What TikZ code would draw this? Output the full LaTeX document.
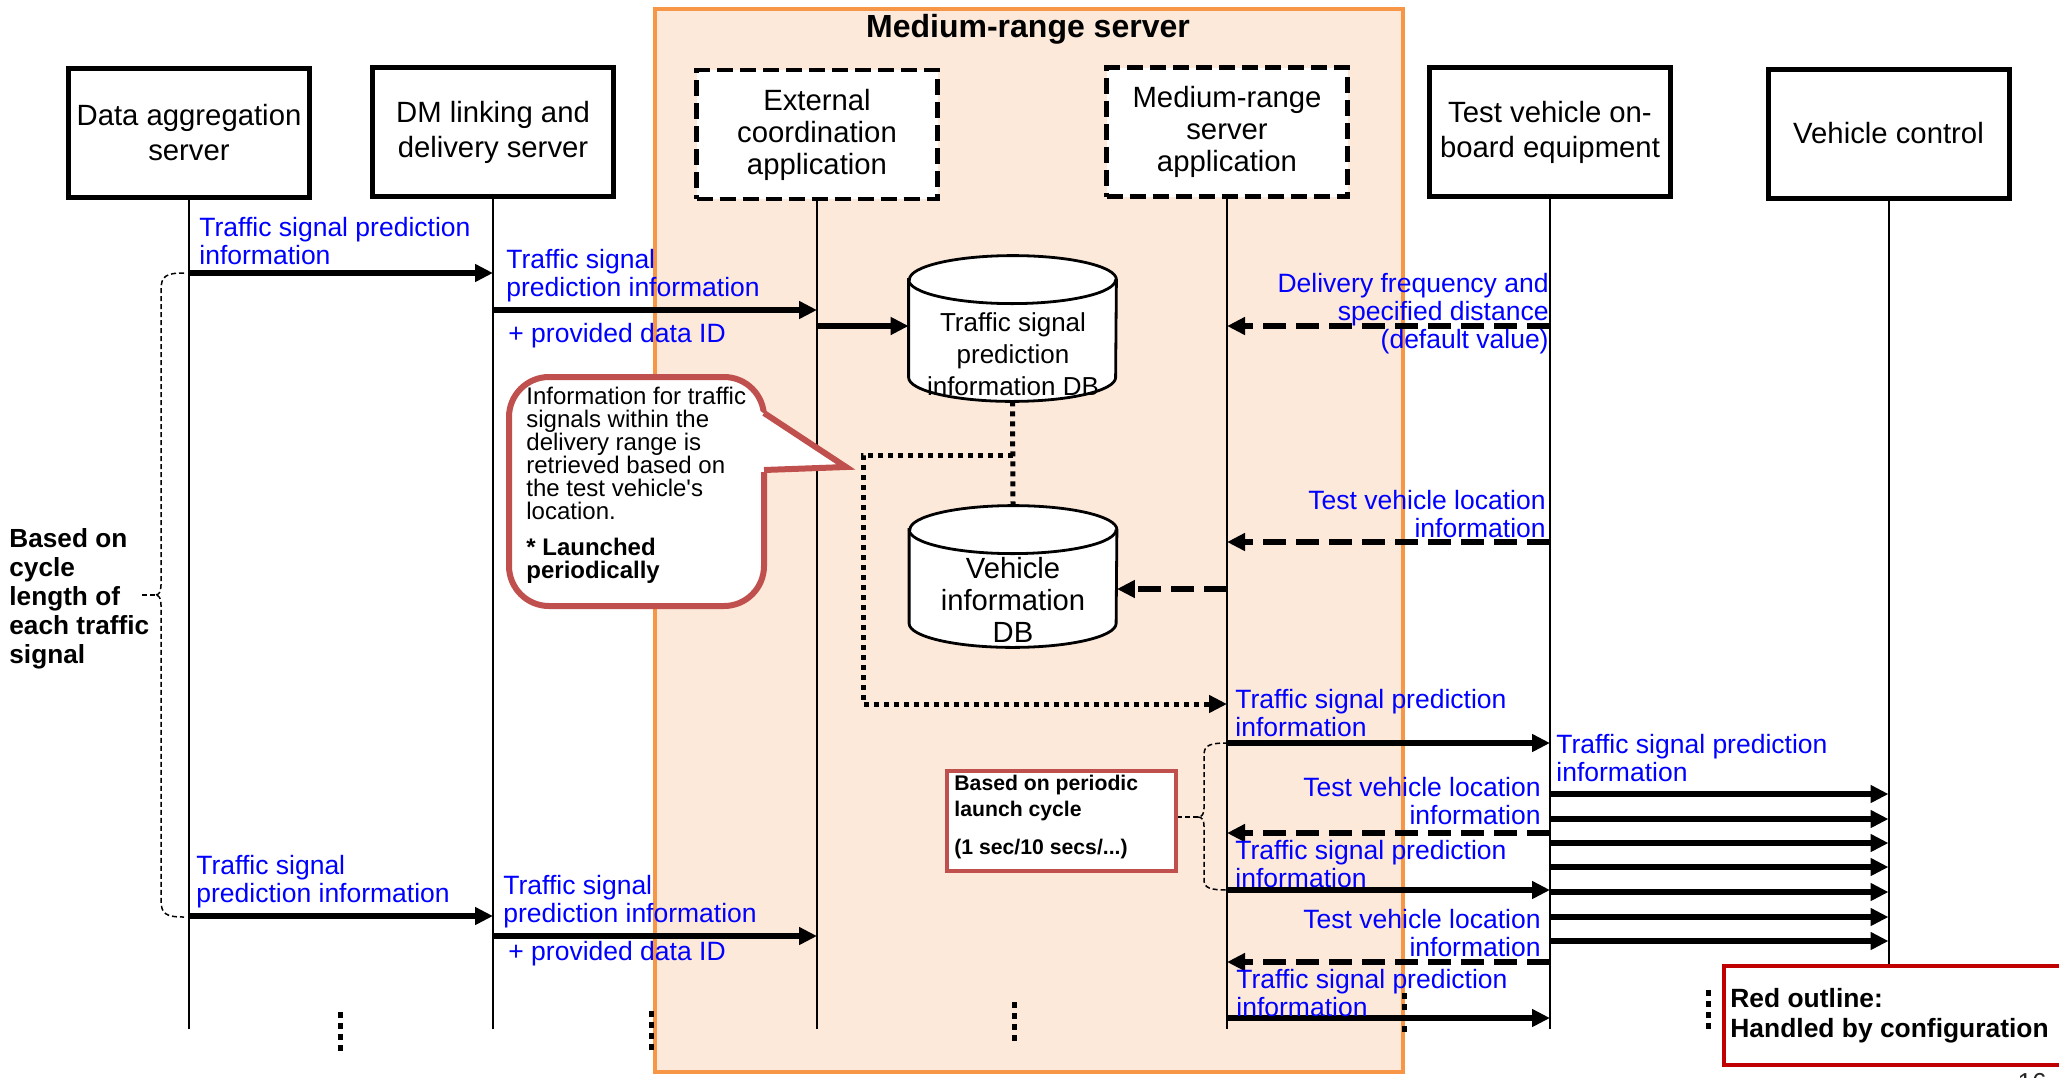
\documentclass[tikz,border=0pt]{standalone}
\usepackage{fontspec}
\setmainfont{Liberation Sans}
\usetikzlibrary{arrows.meta}
\definecolor{peach}{HTML}{FDE9D9}
\definecolor{orangeb}{HTML}{F79646}
\definecolor{calloutred}{HTML}{C0504D}
\definecolor{cfgred}{HTML}{C00000}
\definecolor{lblue}{HTML}{0000FF}
\begin{document}
\begin{tikzpicture}[x=0.5pt,y=0.5pt,
  lifebox/.style={draw, line width=2.5pt, fill=white, minimum width=120.5pt, minimum height=64.5pt, inner sep=0pt, align=center, font=\fontsize{14.65pt}{17.5pt}\selectfont},
  appbox/.style={lifebox, line width=2.2pt, dash pattern=on 8pt off 3.5pt, font=\fontsize{14.65pt}{16pt}\selectfont},
  lifeline/.style={line width=1pt},
  msg/.style={line width=3pt, -{Triangle[length=9pt,width=8.5pt]}},
  dmsg/.style={msg, dash pattern=on 11.5pt off 5pt},
  tmsg/.style={line width=2.5pt, dash pattern=on 2.5pt off 2.5pt, -{Triangle[length=9pt,width=8.5pt]}},
  tline/.style={line width=2.5pt, dash pattern=on 2.5pt off 2.5pt},
  lbl/.style={text=lblue, inner sep=0pt, font=\fontsize{13.25pt}{14pt}\selectfont},
  lbll/.style={lbl, anchor=west, align=left},
  lblr/.style={lbl, anchor=east, align=right},
  brace/.style={line width=0.75pt, dash pattern=on 2.5pt off 1.5pt},
  vdots/.style={line width=2.5pt, dash pattern=on 2.75pt off 2.75pt},
  dbline/.style={line width=1.4pt},
  dbshape/.style={inner sep=0pt, minimum width=103.5pt},
  plain/.style={inner sep=0pt, anchor=west, align=left},
]
\useasboundingbox (0,0) rectangle (2059,-1077);

% medium-range server group
\node[draw=orangeb, fill=peach, line width=2pt, minimum width=374pt, minimum height=531.5pt, inner sep=0pt] (group) at (1029,-540.5) {};
\node[font=\bfseries\fontsize{16pt}{16pt}\selectfont, inner sep=0pt] (title) at (1028,-29) {Medium-range server};

% lifeline heads
\node[lifebox] (das) at (189,-133) {Data aggregation\\server};
\node[lifebox] (dml) at (493,-132) {DM linking and\\delivery server};
\node[appbox] (eca) at (817,-134.5) {External\\coordination\\application};
\node[appbox] (mrs) at (1227,-132) {Medium-range\\server\\application};
\node[lifebox] (tvo) at (1550,-132) {Test vehicle on-\\board equipment};
\node[lifebox] (vc) at (1888.5,-133.5) {Vehicle control};

% lifelines
\coordinate (yend) at (0,-1029);
\coordinate (yvc) at (0,-964);
\draw[lifeline] (das.south) -- (das.south |- yend);
\draw[lifeline] (dml.south) -- (dml.south |- yend);
\draw[lifeline] (eca.south) -- (eca.south |- yend);
\draw[lifeline] (mrs.south) -- (mrs.south |- yend);
\draw[lifeline] (tvo.south) -- (tvo.south |- yend);
\draw[lifeline] (vc.south) -- (vc.south |- yvc);

% databases
\node[dbshape, minimum height=72.5pt] (db1) at (1012.5,-328.5) {};
\node[dbshape, minimum height=70.5pt] (db2) at (1013,-576.5) {};
\foreach \d in {db1,db2}{
  \draw[dbline, fill=white] ([yshift=-12pt]\d.north west) -- ([yshift=12pt]\d.south west)
    arc[start angle=180, end angle=360, x radius=51.75pt, y radius=12pt]
    -- ([yshift=-12pt]\d.north east)
    arc[start angle=0, end angle=180, x radius=51.75pt, y radius=12pt] -- cycle;
  \draw[dbline] ([yshift=-12pt]\d.north west)
    arc[start angle=180, end angle=360, x radius=51.75pt, y radius=12pt];
}
\node[font=\fontsize{13pt}{16pt}\selectfont, align=center, inner sep=0pt] (db1t) at (1013,-354) {Traffic signal\\prediction\\information DB};
\node[font=\fontsize{14.6pt}{16pt}\selectfont, align=center, inner sep=0pt] (db2t) at (1013,-600) {Vehicle\\information\\DB};

% callout
\node[draw=calloutred, line width=3pt, fill=white, rounded corners=20pt, minimum width=127.5pt, minimum height=114.5pt, inner sep=0pt] (callout) at (636.5,-491.5) {};
\coordinate (tip) at (846,-467);
\fill[white] (760,-411) -- (tip) -- (760,-472) -- cycle;
\draw[calloutred, line width=3pt, line join=miter] (764,-413) -- (tip) -- (764,-470);
\node[plain, font=\fontsize{12pt}{11.5pt}\selectfont] (calltext) at (526,-485)
  {Information for traffic\\signals within the\\delivery range is\\retrieved based on\\the test vehicle\textquotesingle s\\location.\\[6.5pt]\textbf{* Launched}\\\textbf{periodically}};

% message levels
\coordinate (m1) at (0,-273);
\coordinate (m2) at (0,-310);
\coordinate (m3) at (0,-326);
\coordinate (m4) at (0,-542);
\coordinate (m5) at (0,-589);
\coordinate (m7) at (0,-743);
\coordinate (m8) at (0,-833);
\coordinate (m9) at (0,-890);
\coordinate (m10) at (0,-962);
\coordinate (m11) at (0,-1018);
\coordinate (m12) at (0,-916);
\coordinate (m13) at (0,-936);

\draw[msg] (das |- m1) -- (dml |- m1);
\draw[msg] (dml |- m2) -- (eca |- m2);
\draw[msg] (eca |- m3) -- (db1.west |- m3);
\draw[dmsg] (tvo |- m3) -- (mrs |- m3);
\draw[dmsg] (tvo |- m4) -- (mrs |- m4);
\draw[dmsg] (mrs |- m5) -- (db2.east |- m5);

% dotted retrieval path
\coordinate (br) at (1013,-455);
\coordinate (c1) at (863,-455);
\coordinate (c2) at (863,-704);
\draw[tline] (db1.south) -- (db2.north);
\draw[tmsg] (br) -- (c1) -- (c2) -- (mrs |- c2);

\draw[msg] (mrs |- m7) -- (tvo |- m7);
\draw[dmsg] (tvo |- m8) -- (mrs |- m8);
\draw[msg] (mrs |- m9) -- (tvo |- m9);
\draw[dmsg] (tvo |- m10) -- (mrs |- m10);
\draw[msg] (mrs |- m11) -- (tvo |- m11);
\draw[msg] (das |- m12) -- (dml |- m12);
\draw[msg] (dml |- m13) -- (eca |- m13);
\foreach \y [count=\i] in {794,819,843,867,892,917,941}{
  \coordinate (v\i) at (0,-\y);
  \draw[msg] (tvo |- v\i) -- (vc |- v\i);
}

% labels
\node[lbll] (l1) at (199,-241) {Traffic signal prediction\\information};
\node[lbll] (l2) at (506,-276) {Traffic signal\\prediction information};
\node[lbll] (l3) at (508,-336) {+ provided data ID};
\node[lblr] (l4) at (1549,-314) {Delivery frequency and\\specified distance\\(default value)};
\node[lblr] (l5) at (1546,-514) {Test vehicle location\\information};
\node[lbll] (l6) at (1235,-713) {Traffic signal prediction\\information};
\node[lbll] (l7) at (1556,-758) {Traffic signal prediction\\information};
\node[lblr] (l8) at (1541,-801) {Test vehicle location\\information};
\node[lbll] (l9) at (1235,-864) {Traffic signal prediction\\information};
\node[lblr] (l10) at (1541,-933) {Test vehicle location\\information};
\node[lbll] (l11) at (1236,-993) {Traffic signal prediction\\information};
\node[lbll] (l12) at (196,-882) {Traffic signal\\prediction information};
\node[lbll] (l13) at (503,-902) {Traffic signal\\prediction information};
\node[lbll] (l14) at (508,-954) {+ provided data ID};

% cycle-length brace
\node[plain, font=\bfseries\fontsize{13.1pt}{14.5pt}\selectfont] (cyclen) at (9,-599) {Based on\\cycle\\length of\\each traffic\\signal};
\draw[brace] (184,-273) .. controls (166,-273) and (161,-276) .. (161,-290) -- (161,-585)
  .. controls (161,-592) and (159,-595) .. (155,-595)
  .. controls (159,-595) and (161,-598) .. (161,-605) -- (161,-900)
  .. controls (161,-914) and (166,-917) .. (184,-917);
\draw[brace] (155,-595) -- (140,-595);

% periodic launch box and brace
\node[draw=calloutred, line width=2pt, fill=white, minimum width=114.5pt, minimum height=50pt, inner sep=0pt] (pbox) at (1061.5,-821) {};
\node[plain, font=\bfseries\fontsize{10.6pt}{13pt}\selectfont] (ptext) at (954,-817) {Based on periodic\\launch cycle\\[6pt](1 sec/10 secs/...)};
\draw[brace] (1228,-743) .. controls (1210,-743) and (1204,-745) .. (1204,-755) -- (1204,-808)
  .. controls (1204,-814) and (1202,-817) .. (1198,-817)
  .. controls (1202,-817) and (1204,-820) .. (1204,-826) -- (1204,-880)
  .. controls (1204,-888) and (1210,-890) .. (1228,-890);
\draw[brace] (1198,-817) -- (pbox.east |- 0,-817);

% continuation marks
\draw[vdots] (340,-1012) -- (340,-1053);
\draw[vdots] (651,-1011) -- (651,-1052);
\draw[vdots] (1014,-1002) -- (1014,-1042);
\draw[vdots] (1404,-993) -- (1404,-1033);
\draw[vdots] (1708,-990) -- (1708,-1031);

% legend box
\node[draw=cfgred, line width=2pt, fill=white, minimum width=189pt, minimum height=49.5pt, inner sep=0pt, anchor=north west] (cfgbox) at (1722,-964) {};
\node[plain, font=\bfseries\fontsize{13.2pt}{15pt}\selectfont] (cfgtext) at (1730,-1016) {Red outline:\\Handled by configuration};

\node[anchor=north, inner sep=0pt, font=\fontsize{13pt}{13pt}\selectfont, text=black!85] (pgno) at (2032,-1073) {16};
\end{tikzpicture}
\end{document}
